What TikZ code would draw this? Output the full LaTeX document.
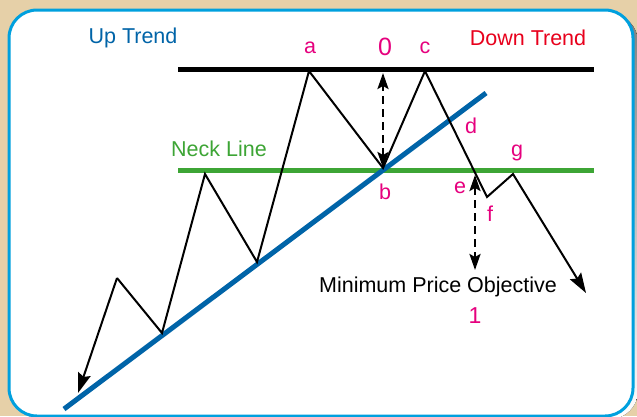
\documentclass[tikz,border=0pt]{standalone}
\usepackage{fontspec}
\setmainfont{Liberation Sans}
\usetikzlibrary{arrows.meta,positioning}
\definecolor{paper}{RGB}{230,208,168}
\definecolor{frameblue}{RGB}{0,160,222}
\definecolor{shade}{RGB}{150,150,150}
\definecolor{trendblue}{RGB}{0,100,168}
\definecolor{necklinegreen}{RGB}{61,165,53}
\definecolor{downred}{RGB}{232,0,28}
\definecolor{pointpink}{RGB}{230,0,126}
\tikzset{
    price/.style={line width=2pt, line join=miter},
    pricehead/.style={-{Stealth[length=20pt,width=13pt,inset=3pt]}},
    gauge/.style={line width=2.4pt, dash pattern=on 8pt off 5pt,
        {Stealth[length=16pt,width=11pt,inset=3pt]}-{Stealth[length=16pt,width=11pt,inset=3pt]}},
    level/.style={line width=5pt},
    txt/.style={font=\fontsize{21.5}{26}\selectfont, inner sep=0pt},
    pt/.style={txt, text=pointpink}
}
\begin{document}
\begin{tikzpicture}[x=1pt,y=-1pt]
    \useasboundingbox (0,0) rectangle (637,416);
    \fill[paper] (0,0) rectangle (637,416);
    \fill[shade, rounded corners=28pt] (13,14) rectangle (638,419);
    \draw[frameblue, line width=3pt, fill=white, rounded corners=28pt] (9,10) rectangle (633,416);
    % price points
    \coordinate (s0) at (78,393);
    \coordinate (p1) at (117,278);
    \coordinate (t1) at (162,333);
    \coordinate (p2) at (205,174);
    \coordinate (t2) at (257,262);
    \coordinate (a) at (309,71);
    \coordinate (b) at (383,168);
    \coordinate (c) at (425,71);
    \coordinate (f) at (487,197);
    \coordinate (g) at (513,174);
    \coordinate (s9) at (586,293);
    % levels
    \coordinate (topL) at (178,69);
    \coordinate (topR) at (594,69);
    \coordinate (neckL) at (178,170);
    \coordinate (neckR) at (594,170);
    \coordinate (trendL) at (64,409);
    \coordinate (trendR) at (486,93);
    \draw[level, black] (topL) -- (topR);
    \draw[level, necklinegreen] (neckL) -- (neckR);
    \draw[level, trendblue] (trendL) -- (trendR);
    % price path
    \draw[price, pricehead] (p1) -- (s0);
    \draw[price, pricehead] (p1) -- (t1) -- (p2) -- (t2) -- (a) -- (b) -- (c) -- (f) -- (g) -- (s9);
    % measured move
    \coordinate (m0) at (383,73);
    \coordinate (m1) at (475,175);
    \coordinate (m2) at (475,270);
    \draw[gauge] (b) -- (m0);
    \draw[gauge] (m1) -- (m2);
    % labels
    \node[txt, text=trendblue] (uptrend) at (133,38) {Up Trend};
    \node[txt, text=downred] (downtrend) at (528,38) {Down Trend};
    \node[txt, text=necklinegreen] (neck) at (219,149) {Neck Line};
    \node[pt] (la) at (310,48) {a};
    \node[pt, font=\fontsize{25}{30}\selectfont] (zero) at (385,47) {0};
    \node[pt] (lc) at (425,48) {c};
    \node[pt] (ld) at (471,126) {d};
    \node[pt] (lb) at (385,192) {b};
    \node[pt] (le) at (460,188) {e};
    \node[pt] (lf) at (490,214) {f};
    \node[pt] (lg) at (517,153) {g};
    \node[txt] (objective) at (438,287) {Minimum Price Objective};
    \node[pt, font=\fontsize{23}{28}\selectfont] (one) at (475,316) {1};
\end{tikzpicture}
\end{document}
